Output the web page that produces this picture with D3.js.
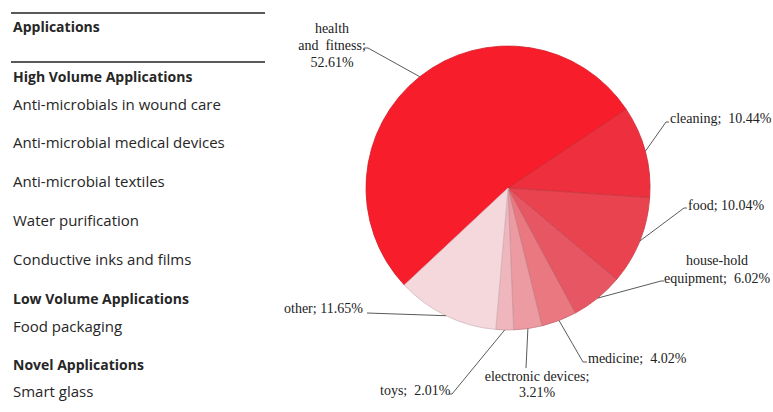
<!DOCTYPE html>
<html>
<head>
<meta charset="utf-8">
<script src="https://cdn.jsdelivr.net/npm/d3@7"></script>
<style>
  html, body { margin: 0; padding: 0; background: #fff; }
  svg { display: block; }
</style>
</head>
<body>
<svg id="chart" width="773" height="412"></svg>
<script>
// Application categories and their market shares (%)
const categories = ["health and fitness", "cleaning", "food", "house-hold equipment",
  "medicine", "electronic devices", "toys", "other"];
const shares = [52.61, 10.44, 10.04, 6.02, 4.02, 3.21, 2.01, 11.65];
const sliceColors = ["#f81d2b", "#ee303e", "#e9434f", "#e75663", "#e97880",
  "#ec9ba2", "#f0b6bd", "#f4d8dc"];
// Label text lines for each slice
const labelLines = [
  ["health", "and  fitness;", "52.61%"],
  ["cleaning;  10.44%"],
  ["food; 10.04%"],
  ["house-hold", "equipment;  6.02%"],
  ["medicine;  4.02%"],
  ["electronic devices;", "3.21%"],
  ["toys;  2.01%"],
  ["other; 11.65%"]
];

// Side table of applications
const tableTitle = "Applications";
const tableRows = [
  { text: "High Volume Applications", bold: true },
  { text: "Anti-microbials in wound care", bold: false },
  { text: "Anti-microbial medical devices", bold: false },
  { text: "Anti-microbial textiles", bold: false },
  { text: "Water purification", bold: false },
  { text: "Conductive inks and films", bold: false },
  { text: "Low Volume Applications", bold: true },
  { text: "Food packaging", bold: false },
  { text: "Novel Applications", bold: true },
  { text: "Smart glass", bold: false }
];

const svg = d3.select("#chart");

// ---- table ----
const table = svg.append("g").attr("font-family", "'Open Sans', 'Noto Sans', sans-serif")
  .attr("fill", "#262626");
table.append("line").attr("x1", 11).attr("x2", 265).attr("y1", 13).attr("y2", 13)
  .attr("stroke", "#222").attr("stroke-width", 1.5);
table.append("line").attr("x1", 11).attr("x2", 265).attr("y1", 62).attr("y2", 62)
  .attr("stroke", "#222").attr("stroke-width", 1.5);
table.append("text").attr("x", 13).attr("y", 32).attr("font-size", 14)
  .attr("font-weight", 700).text(tableTitle);
const rowBaselines = [82, 110, 148, 187, 226, 265, 304, 332, 370, 397];
table.selectAll("text.row").data(tableRows).join("text")
  .attr("class", "row")
  .attr("x", 13)
  .attr("y", (d, i) => rowBaselines[i])
  .attr("font-size", d => d.bold ? 14 : 15)
  .attr("font-weight", d => d.bold ? 700 : 400)
  .text(d => d.text);

// ---- pie ----
const cx = 508, cy = 188, radius = 142;
const startDeg = -133.1;
const pie = d3.pie().sort(null).value(d => d)
  .startAngle(startDeg * Math.PI / 180)
  .endAngle((startDeg + 360) * Math.PI / 180);
const arcs = pie(shares);
const arc = d3.arc().innerRadius(0).outerRadius(radius);
const edgeArc = d3.arc().innerRadius(radius).outerRadius(radius);

const pieG = svg.append("g").attr("transform", `translate(${cx},${cy})`);
pieG.selectAll("path").data(arcs).join("path")
  .attr("d", arc)
  .attr("fill", (d, i) => sliceColors[i])
  .attr("stroke", (d, i) => d3.color(sliceColors[i]).darker(0.45))
  .attr("stroke-width", 0.8)
  .attr("stroke-linejoin", "round");

// ---- leaders and labels ----
// Where each leader meets its label, and where the label text sits
const labelLayout = [
  { pts: [[368, 48], [364, 48]], x: 332, y: 33, anchor: "middle", dy: 17 },
  { pts: [[666, 122], [669, 122]], x: 670, y: 123, anchor: "start", dy: 17 },
  { pts: [[684, 208], [687, 208]], x: 688, y: 210, anchor: "start", dy: 17 },
  { pts: [[661, 281], [664, 281]], x: 717, y: 265, anchor: "middle", dy: 18 },
  { pts: [[583, 362], [587, 362]], x: 588, y: 363, anchor: "start", dy: 17 },
  { pts: [[526, 368]], x: 537, y: 381, anchor: "middle", dy: 16 },
  { pts: [[452, 394], [449, 394]], x: 380, y: 395, anchor: "start", dy: 17 },
  { pts: [[367, 313]], x: 284, y: 313, anchor: "start", dy: 17 }
];

const line = d3.line();
const leaders = svg.append("g");
arcs.forEach((a, i) => {
  const e = edgeArc.centroid(a);
  const p0 = [cx + e[0], cy + e[1]];
  leaders.append("path")
    .attr("d", line([p0, ...labelLayout[i].pts]))
    .attr("fill", "none")
    .attr("stroke", "#5a5a5a")
    .attr("stroke-width", 1);
});

const labels = svg.append("g")
  .attr("font-family", "'Liberation Serif', 'Times New Roman', serif")
  .attr("font-size", 14)
  .attr("fill", "#222");
labelLines.forEach((lines, i) => {
  const L = labelLayout[i];
  const t = labels.append("text")
    .attr("text-anchor", L.anchor)
    .style("white-space", "pre");
  lines.forEach((s, j) => {
    t.append("tspan").attr("x", L.x).attr("y", L.y + j * L.dy).text(s);
  });
});
</script>
</body>
</html>
